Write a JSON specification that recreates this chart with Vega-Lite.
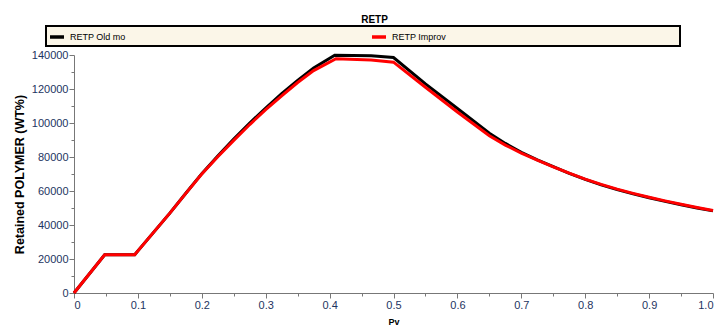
{
  "$schema": "https://vega.github.io/schema/vega-lite/v6.json",
  "width": 639,
  "height": 238,
  "autosize": {"type": "none"},
  "padding": {"left": 74, "top": 55, "right": 8, "bottom": 36},
  "background": "white",
  "title": {"text": "RETP", "fontSize": 10, "fontWeight": "bold", "font": "Liberation Sans", "color": "black", "offset": 0, "dx": -19, "anchor": "middle"},
  "config": {
    "view": {"stroke": null},
    "font": "Liberation Sans",
    "legend": {"strokeWidth": 2},
    "axis": {"grid": false, "domainColor": "#777777", "tickColor": "#777777", "labelColor": "#1d3461", "labelFont": "Liberation Sans", "labelFontSize": 11, "titleFont": "Liberation Sans", "titleColor": "black", "titleFontWeight": "bold"}
  },
  "resolve": {"axis": {"x": "independent", "y": "independent"}},
  "data": {"values": [
    {"series": "RETP Old mo", "pv": 0, "v": 0},
    {"series": "RETP Old mo", "pv": 0.048, "v": 22500},
    {"series": "RETP Old mo", "pv": 0.095, "v": 22500},
    {"series": "RETP Old mo", "pv": 0.1, "v": 24800},
    {"series": "RETP Old mo", "pv": 0.15, "v": 47000},
    {"series": "RETP Old mo", "pv": 0.175, "v": 58700},
    {"series": "RETP Old mo", "pv": 0.2, "v": 70200},
    {"series": "RETP Old mo", "pv": 0.225, "v": 80600},
    {"series": "RETP Old mo", "pv": 0.25, "v": 90500},
    {"series": "RETP Old mo", "pv": 0.275, "v": 100000},
    {"series": "RETP Old mo", "pv": 0.3, "v": 108800},
    {"series": "RETP Old mo", "pv": 0.325, "v": 117200},
    {"series": "RETP Old mo", "pv": 0.35, "v": 125000},
    {"series": "RETP Old mo", "pv": 0.375, "v": 132300},
    {"series": "RETP Old mo", "pv": 0.408, "v": 139800},
    {"series": "RETP Old mo", "pv": 0.465, "v": 139500},
    {"series": "RETP Old mo", "pv": 0.5, "v": 138500},
    {"series": "RETP Old mo", "pv": 0.55, "v": 123000},
    {"series": "RETP Old mo", "pv": 0.6, "v": 108500},
    {"series": "RETP Old mo", "pv": 0.65, "v": 94000},
    {"series": "RETP Old mo", "pv": 0.675, "v": 88000},
    {"series": "RETP Old mo", "pv": 0.7, "v": 82800},
    {"series": "RETP Old mo", "pv": 0.725, "v": 78300},
    {"series": "RETP Old mo", "pv": 0.75, "v": 74300},
    {"series": "RETP Old mo", "pv": 0.775, "v": 70400},
    {"series": "RETP Old mo", "pv": 0.8, "v": 66800},
    {"series": "RETP Old mo", "pv": 0.825, "v": 63600},
    {"series": "RETP Old mo", "pv": 0.85, "v": 60800},
    {"series": "RETP Old mo", "pv": 0.875, "v": 58300},
    {"series": "RETP Old mo", "pv": 0.9, "v": 56000},
    {"series": "RETP Old mo", "pv": 0.925, "v": 53900},
    {"series": "RETP Old mo", "pv": 0.95, "v": 51900},
    {"series": "RETP Old mo", "pv": 0.975, "v": 50000},
    {"series": "RETP Old mo", "pv": 1.0, "v": 48300},
    {"series": "RETP Improv", "pv": 0, "v": 0},
    {"series": "RETP Improv", "pv": 0.048, "v": 22500},
    {"series": "RETP Improv", "pv": 0.095, "v": 22500},
    {"series": "RETP Improv", "pv": 0.1, "v": 24800},
    {"series": "RETP Improv", "pv": 0.15, "v": 47000},
    {"series": "RETP Improv", "pv": 0.175, "v": 58600},
    {"series": "RETP Improv", "pv": 0.2, "v": 70000},
    {"series": "RETP Improv", "pv": 0.225, "v": 80200},
    {"series": "RETP Improv", "pv": 0.25, "v": 89800},
    {"series": "RETP Improv", "pv": 0.275, "v": 99100},
    {"series": "RETP Improv", "pv": 0.3, "v": 107800},
    {"series": "RETP Improv", "pv": 0.325, "v": 116000},
    {"series": "RETP Improv", "pv": 0.35, "v": 123800},
    {"series": "RETP Improv", "pv": 0.375, "v": 130800},
    {"series": "RETP Improv", "pv": 0.41, "v": 137800},
    {"series": "RETP Improv", "pv": 0.465, "v": 137000},
    {"series": "RETP Improv", "pv": 0.5, "v": 135800},
    {"series": "RETP Improv", "pv": 0.55, "v": 121000},
    {"series": "RETP Improv", "pv": 0.6, "v": 106500},
    {"series": "RETP Improv", "pv": 0.65, "v": 92500},
    {"series": "RETP Improv", "pv": 0.675, "v": 87000},
    {"series": "RETP Improv", "pv": 0.7, "v": 82300},
    {"series": "RETP Improv", "pv": 0.725, "v": 78100},
    {"series": "RETP Improv", "pv": 0.75, "v": 74200},
    {"series": "RETP Improv", "pv": 0.775, "v": 70500},
    {"series": "RETP Improv", "pv": 0.8, "v": 67000},
    {"series": "RETP Improv", "pv": 0.825, "v": 63900},
    {"series": "RETP Improv", "pv": 0.85, "v": 61100},
    {"series": "RETP Improv", "pv": 0.875, "v": 58600},
    {"series": "RETP Improv", "pv": 0.9, "v": 56300},
    {"series": "RETP Improv", "pv": 0.925, "v": 54200},
    {"series": "RETP Improv", "pv": 0.95, "v": 52200},
    {"series": "RETP Improv", "pv": 0.975, "v": 50300},
    {"series": "RETP Improv", "pv": 1.0, "v": 48500}
  ]},
  "layer": [
    {
      "mark": {"type": "point", "opacity": 0},
      "encoding": {
        "x": {"field": "pv", "type": "quantitative", "axis": {"orient": "bottom", "values": [0.05, 0.15, 0.25, 0.35, 0.45, 0.55, 0.65, 0.75, 0.85, 0.95], "labels": false, "domain": false, "tickSize": 3, "title": null}},
        "y": {"field": "v", "type": "quantitative", "axis": {"orient": "left", "values": [10000, 30000, 50000, 70000, 90000, 110000, 130000], "labels": false, "domain": false, "tickSize": 3, "title": null}}
      }
    },
    {
      "mark": {"type": "line", "strokeWidth": 3, "strokeJoin": "miter"},
      "encoding": {
        "x": {"field": "pv", "type": "quantitative", "scale": {"domain": [0, 1], "nice": false}, "title": "Pv",
              "axis": {"orient": "bottom", "values": [0, 0.1, 0.2, 0.3, 0.4, 0.5, 0.6, 0.7, 0.8, 0.9, 1.0], "labelExpr": "datum.value == 0 ? '0' : format(datum.value, '.1f')", "tickSize": 5, "labelPadding": 1, "titleFontSize": 9, "titlePadding": 7}},
        "y": {"field": "v", "type": "quantitative", "scale": {"domain": [0, 140000], "nice": false}, "title": "Retained POLYMER (WT%)",
              "axis": {"orient": "left", "values": [0, 20000, 40000, 60000, 80000, 100000, 120000, 140000], "format": "d", "tickSize": 5, "labelPadding": 1, "titleFontSize": 12.5, "titlePadding": 5}},
        "color": {"field": "series", "type": "nominal", "sort": ["RETP Old mo", "RETP Improv"],
                  "scale": {"domain": ["RETP Old mo", "RETP Improv"], "range": ["black", "#ff0000"]},
                  "legend": {"title": null, "orient": "none", "legendX": -28, "legendY": -29, "direction": "horizontal", "columns": 2, "gridAlign": "all",
                             "fillColor": "#fbf6e8", "strokeColor": "black", "padding": 2, "columnPadding": 8,
                             "symbolType": "stroke", "symbolSize": 196, "symbolStrokeWidth": 3.5, "labelFontSize": 9, "labelFont": "Liberation Sans", "labelColor": "black", "labelOffset": 4,
                             "labelLimit": 600,
                             "labelExpr": "datum.label + '\u2800\u2800\u2800\u2800\u2800\u2800\u2800\u2800\u2800\u2800\u2800\u2800\u2800\u2800\u2800\u2800\u2800\u2800\u2800\u2800\u2800\u2800\u2800\u2800\u2800\u2800\u2800\u2800\u2800\u2800\u2800\u2800\u2800'"}}
      }
    }
  ]
}
